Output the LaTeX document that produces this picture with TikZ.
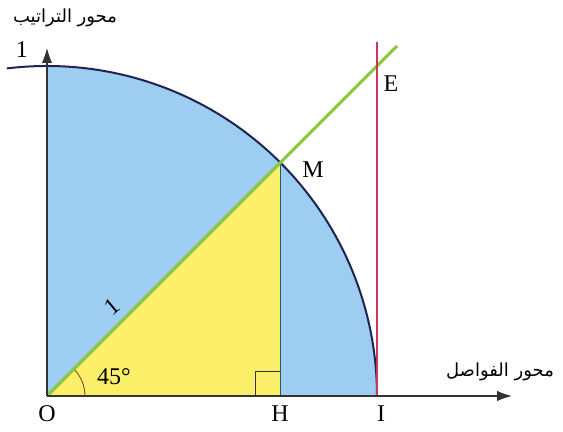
\documentclass[tikz,border=0pt]{standalone}
\usepackage{fontspec}
\setmainfont{Liberation Serif}
\newfontfamily\arabicfont[Script=Arabic]{DejaVu Sans}
\TeXXeTstate=1
\usetikzlibrary{arrows.meta,calc}
\definecolor{sky}{HTML}{9DCDF0}
\definecolor{sun}{HTML}{FBEF6A}
\definecolor{navy}{HTML}{1E2452}
\definecolor{leaf}{HTML}{8CC63F}
\definecolor{deepteal}{HTML}{1F5F5A}
\definecolor{crimson}{HTML}{C8385A}
\definecolor{rust}{HTML}{8B2A1A}
\tikzset{
  axis/.style={-{Latex[length=2.6mm,width=1.8mm]},draw=black!80,semithick},
  point/.style={font=\large,inner sep=1pt},
  axislabel/.style={font=\arabicfont\small,inner sep=1pt},
  circlearc/.style={draw=navy,line width=1pt},
  rayline/.style={draw=leaf,line width=1.5pt},
  tangent/.style={draw=crimson,line width=1pt}
}
\begin{document}
\begin{tikzpicture}[x=0.5pt,y=0.5pt]
  \useasboundingbox (0,0) rectangle (563,432);
  \coordinate (O) at (47,36);
  \coordinate (I) at (377,36);
  \coordinate (H) at (280.3,36);
  \coordinate (M) at (280.3,269.3);
  \coordinate (E) at (377,366);
  \coordinate (top) at (47,366);
  \coordinate (xend) at (512,36);
  \coordinate (yend) at (47,384);
  \coordinate (rayend) at (397,386);
  \coordinate (lineend) at (377,390);
  % quarter disc and triangle
  \fill[sky] (O) -- (I) arc[start angle=0,end angle=90,radius=330] -- (top) -- cycle;
  \fill[sun] (O) -- (H) -- (M) -- cycle;
  \draw[circlearc] (I) arc[start angle=0,end angle=97,radius=330];
  \draw[deepteal,semithick] (M) -- (H);
  \draw[black!80] ($(H)+(-25,0)$) |- ($(H)+(0,25)$);
  \draw[rust] ($(O)+(38,0)$) arc[start angle=0,end angle=45,radius=38];
  \draw[rayline] (O) -- (rayend);
  \draw[tangent] (I) -- (lineend);
  % axes
  \draw[axis] (O) -- (xend);
  \draw[axis] (O) -- (yend);
  \node[axislabel] (xlabel) at (500,60) {\beginR محور الفواصل\endR};
  \node[axislabel] (ylabel) at (65,414) {\beginR محور التراتيب\endR};
  % labels
  \node[point] (lO) at (47,18) {O};
  \node[point] (lH) at (280,18) {H};
  \node[point] (lI) at (381,18) {I};
  \node[point] (lM) at (313,262) {M};
  \node[point] (lE) at (391,348) {E};
  \node[point] (lone) at (22,382) {1};
  \node[point] (lang) at (114,55) {45\textdegree};
  \node[point,rotate=40] (lrad) at (112,125) {1};
\end{tikzpicture}
\end{document}
